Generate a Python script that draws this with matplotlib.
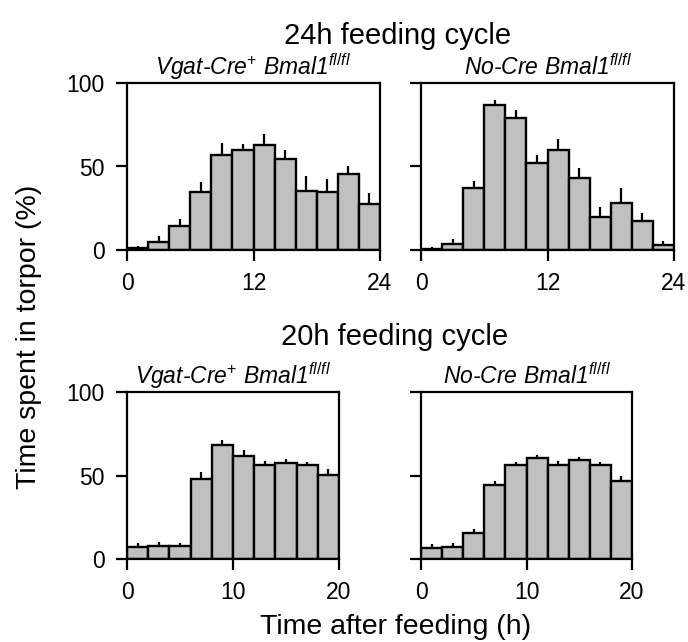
import numpy as np
import matplotlib

matplotlib.use("Agg")
import matplotlib.pyplot as plt

plt.rcParams["font.family"] = ["Liberation Sans", "DejaVu Sans"]
plt.rcParams["mathtext.fontset"] = "custom"
plt.rcParams["mathtext.rm"] = "Liberation Sans"
plt.rcParams["mathtext.it"] = "Liberation Sans:italic"
plt.rcParams["mathtext.default"] = "it"

# 24h feeding cycle, 2h bins
bins_24 = np.arange(0, 24, 2)
vgat_24 = [1.0, 5.0, 14.6, 34.8, 57.0, 59.8, 62.6, 54.6, 35.6, 34.8, 45.4, 27.8]
vgat_24_sem = [1.4, 3.4, 3.8, 6.2, 7.0, 3.8, 7.0, 5.4, 9.0, 7.8, 5.0, 6.4]
nocre_24 = [0.8, 3.8, 37.0, 87.0, 79.0, 52.0, 59.8, 43.0, 20.0, 28.2, 17.4, 2.8]
nocre_24_sem = [0.8, 2.8, 4.2, 2.8, 4.6, 4.6, 6.6, 6.0, 6.0, 9.0, 5.0, 2.4]

# 20h feeding cycle, 2h bins
bins_20 = np.arange(0, 20, 2)
vgat_20 = [7.0, 7.6, 7.8, 48.0, 68.4, 61.4, 56.4, 57.2, 56.0, 50.4]
vgat_20_sem = [2.8, 2.8, 2.0, 3.8, 3.0, 4.0, 2.0, 2.6, 2.2, 3.6]
nocre_20 = [6.4, 7.0, 15.8, 44.6, 56.4, 60.6, 56.4, 59.0, 56.0, 46.8]
nocre_20_sem = [2.4, 2.4, 2.4, 2.2, 1.8, 1.8, 2.0, 2.0, 1.8, 3.0]

vgat_title = r"Vgat-Cre$^{+}$ Bmal1$^{fl/fl}$"
nocre_title = r"No-Cre Bmal1$^{fl/fl}$"

W, H = 688, 642
fig = plt.figure(figsize=(W / 100, H / 100), dpi=100)


def panel(rect, starts, means, sems, xmax, xticks, title, show_y):
    ax = fig.add_axes(rect)
    ax.bar(starts, means, width=2, align="edge", color="#c0c0c0",
           edgecolor="black", linewidth=1.7, zorder=2)
    centers = np.asarray(starts) + 1
    ax.errorbar(centers, means, yerr=[np.zeros(len(sems)), sems], fmt="none",
                ecolor="black", elinewidth=1.6, capsize=0, zorder=1)
    ax.set_xlim(0, xmax)
    ax.set_ylim(0, 100)
    ax.set_xticks(xticks)
    ax.set_yticks([0, 50, 100])
    if not show_y:
        ax.set_yticklabels([])
    for s in ax.spines.values():
        s.set_linewidth(1.6)
    ax.tick_params(direction="out", length=8, width=1.6, labelsize=16.5, pad=8)
    ax.set_title(title, fontsize=16.5, style="italic", pad=6)
    return ax


def rect(x0, y0, x1, y1):
    return [x0 / W, 1 - y1 / H, (x1 - x0) / W, (y1 - y0) / H]


panel(rect(127, 83, 380, 250), bins_24, vgat_24, vgat_24_sem, 24, [0, 12, 24], vgat_title, True)
panel(rect(421, 83, 674, 250), bins_24, nocre_24, nocre_24_sem, 24, [0, 12, 24], nocre_title, False)
panel(rect(127, 392, 339, 559), bins_20, vgat_20, vgat_20_sem, 20, [0, 10, 20], vgat_title, True)
panel(rect(421, 392, 632, 559), bins_20, nocre_20, nocre_20_sem, 20, [0, 10, 20], nocre_title, False)

fig.text(398 / W, 1 - 36 / H, "24h feeding cycle", ha="center", va="center", fontsize=21)
fig.text(395 / W, 1 - 337 / H, "20h feeding cycle", ha="center", va="center", fontsize=21)
fig.text(396 / W, 1 - 627 / H, "Time after feeding (h)", ha="center", va="center", fontsize=20.5)
fig.text(29 / W, 1 - 337 / H, "Time spent in torpor (%)", ha="center", va="center",
         rotation=90, fontsize=20.5)

fig.savefig("out.png", dpi=100)
